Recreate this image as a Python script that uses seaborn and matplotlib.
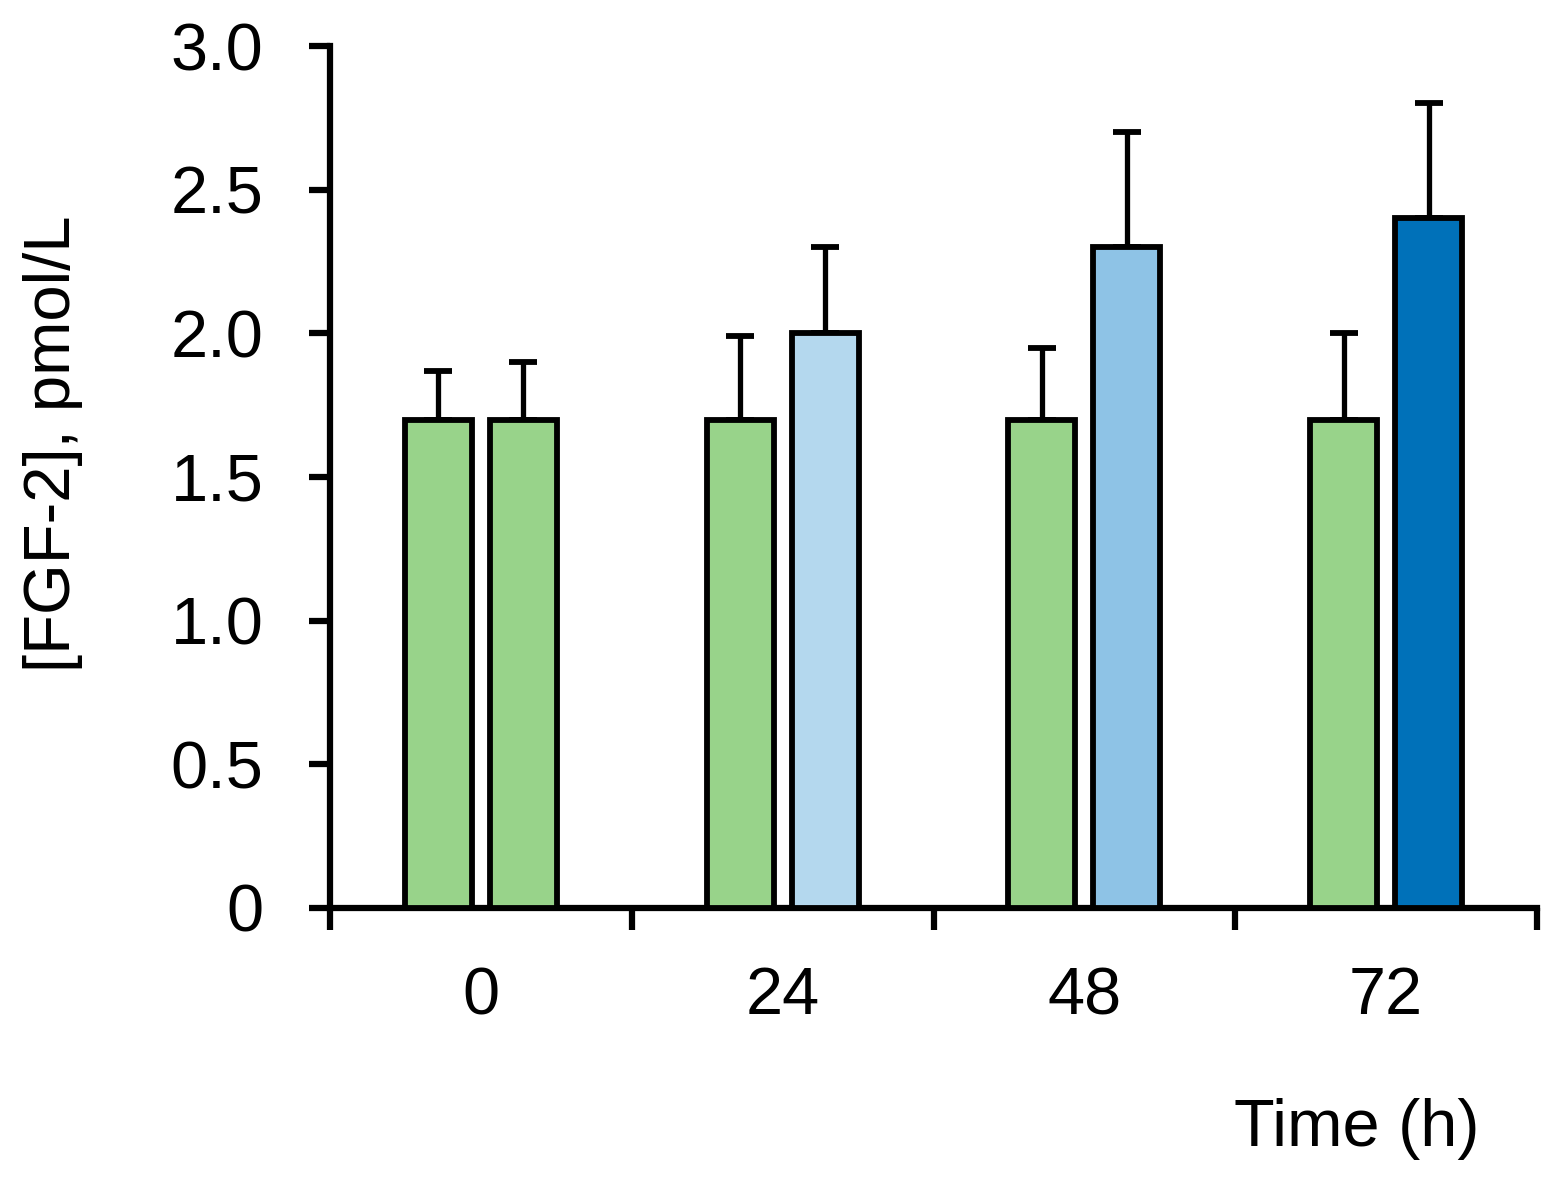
import numpy as np
import pandas as pd
import matplotlib
matplotlib.use("Agg")
import matplotlib.pyplot as plt
import seaborn as sns

# data
times = ["0", "24", "48", "72"]
control_mean = [1.7, 1.7, 1.7, 1.7]
control_err = [0.17, 0.29, 0.25, 0.30]
treated_mean = [1.7, 2.0, 2.3, 2.4]
treated_err = [0.20, 0.30, 0.40, 0.40]

control_colors = ["#98D38A", "#98D38A", "#98D38A", "#98D38A"]
treated_colors = ["#98D38A", "#B4D8EE", "#8EC3E6", "#0071B9"]

df = pd.DataFrame({
    "time": times * 2,
    "value": control_mean + treated_mean,
    "group": ["control"] * 4 + ["treated"] * 4,
})

sns.set_style("ticks")
plt.rcParams["font.family"] = ["Liberation Sans", "DejaVu Sans"]
plt.rcParams["text.color"] = "black"
plt.rcParams["axes.labelcolor"] = "black"
plt.rcParams["xtick.color"] = "black"
plt.rcParams["ytick.color"] = "black"

fig = plt.figure(figsize=(15.59, 11.98), dpi=100)
ax = fig.add_axes([0.2117, 0.2421, 0.7742, 0.7195])

sns.barplot(data=df, x="time", y="value", hue="group", order=times,
            hue_order=["control", "treated"], width=0.564, gap=0.213,
            errorbar=None, legend=False, edgecolor="black", linewidth=4.2,
            ax=ax)

# recolour bars and add one-sided error bars
for cont, cols, errs in zip(ax.containers,
                            [control_colors, treated_colors],
                            [control_err, treated_err]):
    xs, hs = [], []
    for bar, c in zip(cont, cols):
        bar.set_facecolor(c)
        bar.set_zorder(3)
        xs.append(bar.get_x() + bar.get_width() / 2)
        hs.append(bar.get_height())
    ax.errorbar(xs, hs, yerr=[np.zeros(len(errs)), errs], fmt="none",
                ecolor="black", elinewidth=3.8, capsize=10, capthick=4.2,
                zorder=2)

ax.set_xlim(-0.5, 3.5)
ax.set_ylim(0, 3.0)
ax.set_yticks([0, 0.5, 1.0, 1.5, 2.0, 2.5, 3.0])
ax.set_yticklabels(["0", "0.5", "1.0", "1.5", "2.0", "2.5", "3.0"])

# category boundaries carry the tick marks, labels sit at group centres
ax.set_xticks([0, 1, 2, 3])
ax.set_xticklabels(times)
ax.set_xticks([-0.5, 0.5, 1.5, 2.5, 3.5], minor=True)
ax.tick_params(axis="x", which="major", length=0, pad=42, labelsize=48,
               labelcolor="black")
ax.tick_params(axis="x", which="minor", length=16, width=4.5,
               direction="out", color="black")
ax.tick_params(axis="y", length=15, width=4.5, direction="out",
               pad=33, labelsize=48, color="black", labelcolor="black")

sns.despine(ax=ax)
for side in ["left", "bottom"]:
    ax.spines[side].set_linewidth(4.5)
    ax.spines[side].set_color("black")

ax.set_xlabel("Time (h)", fontsize=48, color="black")
ax.xaxis.set_label_coords(0.851, -0.22)
ax.set_ylabel("[FGF-2], pmol/L", fontsize=47, color="black")
ax.yaxis.set_label_coords(-0.205, 0.539)

fig.savefig("out.png", dpi=100)
